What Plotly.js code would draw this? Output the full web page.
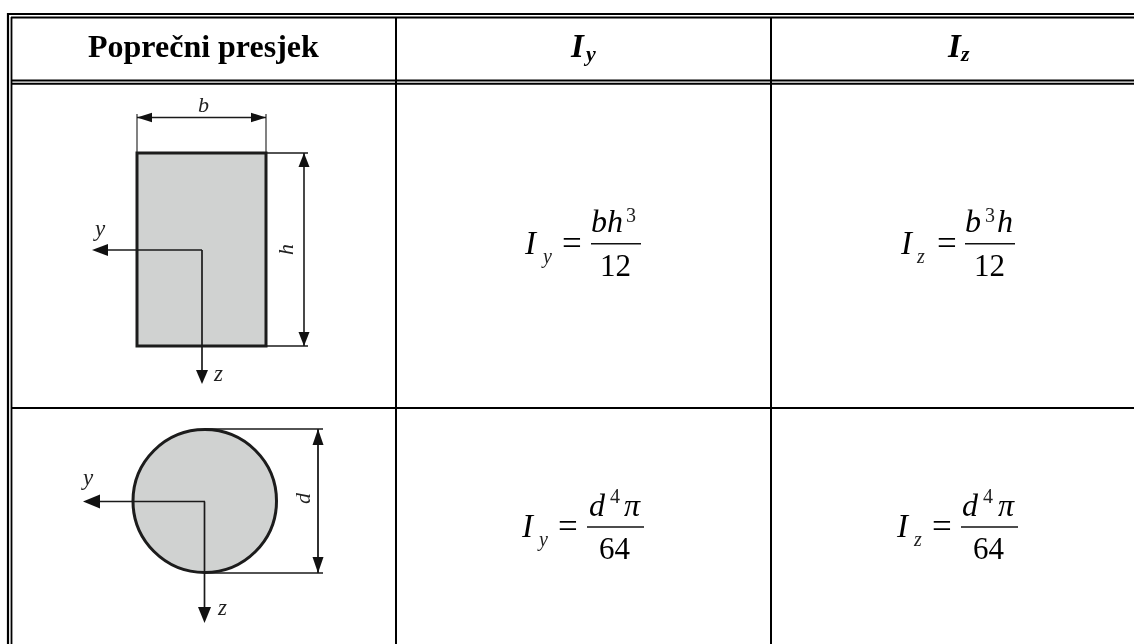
<!DOCTYPE html>
<html><head><meta charset="utf-8">
<script src="https://cdn.plot.ly/plotly-3.0.1.min.js"></script>
<style>html,body{margin:0;padding:0;background:#fff}#c{width:1134px;height:644px;filter:blur(0.35px)}</style>
</head><body><div id="c"></div>
<script>
// Text content
const headers = ["Poprečni presjek"];
const serif = "Liberation Serif";
// Table rules: [x0,y0,x1,y1,width]
const tableRules = [
  [8,14,1134,14,2.2],[11,17.5,1134,17.5,1.8],
  [8,13,8,644,2.2],[11.5,17,11.5,644,1.8],
  [11,80.5,1134,80.5,2.2],[11,83.8,1134,83.8,2],
  [11,408,1134,408,2],
  [396,17,396,644,2],[771,17,771,644,2]
];
// Diagram lines
const diagramLines = [
  [137,114,137,153,1.1],[266,114,266,153,1.1],[137,117.5,266,117.5,1.6],
  [266,153,308,153,1.4],[266,346,308,346,1.4],[304,153,304,346,1.6],
  [100,250,202,250,1.7],[202,250,202,372,1.7],
  [205,429,323,429,1.7],[205,573,323,573,1.7],[318,429,318,573,1.8],
  [98,501.5,205,501.5,1.7],[204.5,501.5,204.5,608,1.7]
];
// Arrow heads: [tipX,tipY,dirX,dirY,length,halfWidth]
const arrowHeads = [
  [137,117.5,1,0,15,4.7],[266,117.5,-1,0,15,4.7],
  [304,153,0,1,14,5.5],[304,346,0,-1,14,5.5],
  [92,250,1,0,16,6],[202,384,0,-1,14,6],
  [318,429,0,1,16,5.5],[318,573,0,-1,16,5.5],
  [83,501.5,1,0,17,7],[204.5,623,0,-1,16,6.5]
];
// Text items: [text,x,y,size,bold,italic,angle]
const labels = [
  [headers[0],203,46,32,1,0,0],
  ["I",577.5,45.5,33,1,1,0],["y",589,53,22,1,1,0],
  ["I",954,45.5,33,1,1,0],["z",965,53,22,1,1,0],
  ["b",203,104,22,0,1,0],["y",99,228,23,0,1,0],["h",285,250,22,0,1,-90],["z",218,373,23,0,1,0],
  ["y",87,477,23,0,1,0],["z",222,607,23,0,1,0],["d",302,498,22,0,1,-90],
  ["I",531,243,33,0,1,0],["y",546,256,20,0,1,0],["=",572,243,35,0,0,0],
  ["bh",607,221,32,0,1,0],["3",631,215,20,0,0,0],["12",615,265,31,0,0,0],
  ["I",907,243,33,0,1,0],["z",920,256,20,0,1,0],["=",947,243,35,0,0,0],
  ["b",973,221,32,0,1,0],["3",990,215,20,0,0,0],["h",1005,221,32,0,1,0],["12",989,265,31,0,0,0],
  ["I",528,526,33,0,1,0],["y",542,539,20,0,1,0],["=",568,526,35,0,0,0],
  ["d",597,505,32,0,1,0],["4",615,496,20,0,0,0],["π",632,505,32,0,1,0],["64",615,548,31,0,0,0],
  ["I",903,526,33,0,1,0],["z",917,539,20,0,1,0],["=",942,526,35,0,0,0],
  ["d",970,505,32,0,1,0],["4",988,496,20,0,0,0],["π",1006,505,32,0,1,0],["64",989,548,31,0,0,0]
];
// Fraction bars: [x0,x1,y]
const fractionBars = [[591,641,243.7],[965,1015,243.7],[587,644,527],[961,1018,527]];

const shapes = [];
const line = (a,color) => shapes.push({type:'line',xref:'x',yref:'y',x0:a[0],y0:a[1],x1:a[2],y1:a[3],line:{color:color,width:a[4]}});
// section fills and outlines
shapes.push({type:'rect',xref:'x',yref:'y',x0:137,y0:153,x1:266,y1:346,fillcolor:'#d0d2d1',line:{color:'#1c1c1c',width:3}});
shapes.push({type:'circle',xref:'x',yref:'y',x0:133,y0:429.5,x1:276.5,y1:572.5,fillcolor:'#d0d2d1',line:{color:'#1c1c1c',width:3}});
tableRules.forEach(a=>line(a,'#000'));
diagramLines.forEach(a=>line(a,'#1a1a1a'));
fractionBars.forEach(b=>line([b[0],b[2],b[1],b[2],1.5],'#111'));
arrowHeads.forEach(h=>{
  const [tx,ty,dx,dy,len,hw]=h;
  const bx=tx+dx*len, by=ty+dy*len, px=-dy*hw, py=dx*hw;
  shapes.push({type:'path',xref:'x',yref:'y',
    path:`M${tx},${ty}L${bx+px},${by+py}L${bx-px},${by-py}Z`,fillcolor:'#111',line:{width:0}});
});
const annotations = labels.map(l=>({
  text:(l[4]?'<b>':'')+(l[5]?'<i>':'')+l[0]+(l[5]?'</i>':'')+(l[4]?'</b>':''),
  x:l[1],y:l[2],xref:'x',yref:'y',xanchor:'center',yanchor:'middle',showarrow:false,
  textangle:l[6],borderpad:0,
  font:{family:serif,size:l[3],color:l[3]<24&&!l[4]?'#222':'#000'}
}));
const layout = {
  width:1134,height:644,margin:{l:0,r:0,t:0,b:0},paper_bgcolor:'#fff',plot_bgcolor:'#fff',showlegend:false,
  xaxis:{range:[0,1134],visible:false,fixedrange:true},
  yaxis:{range:[644,0],visible:false,fixedrange:true},
  shapes:shapes,annotations:annotations
};
Plotly.newPlot('c',[{x:[0],y:[0],mode:'markers',marker:{opacity:0},hoverinfo:'skip'}],layout,{displayModeBar:false,staticPlot:true});
</script></body></html>
